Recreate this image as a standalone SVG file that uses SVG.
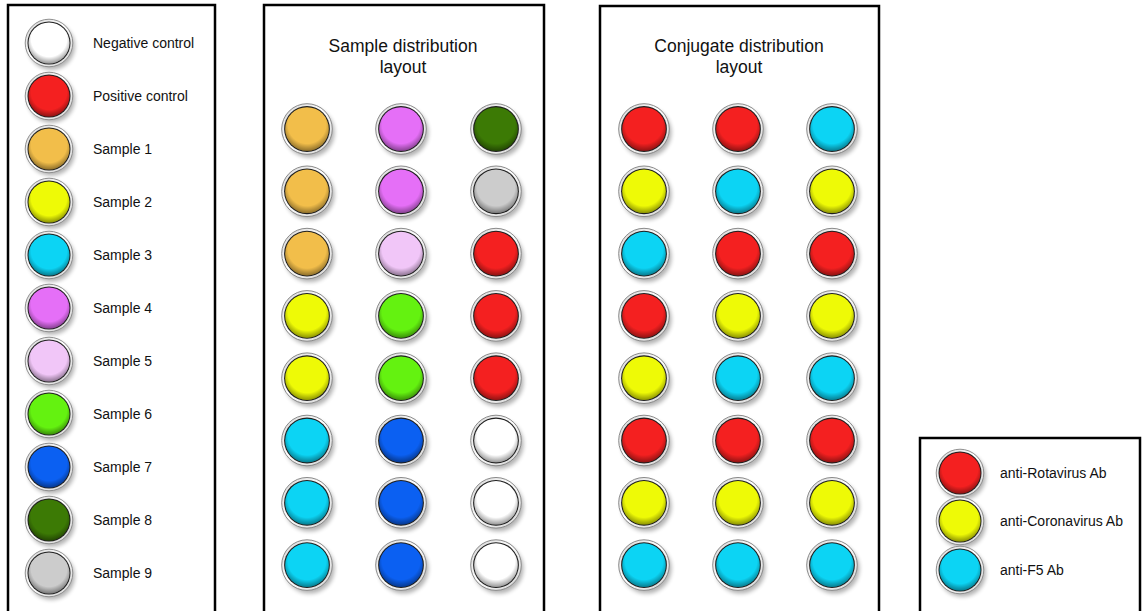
<svg xmlns="http://www.w3.org/2000/svg" xmlns:xlink="http://www.w3.org/1999/xlink" width="1142" height="611" viewBox="0 0 1142 611">
<style>
.panel{fill:#fff;stroke:#000;stroke-width:2.5}
.lbl{font-family:"Liberation Sans",Arial,sans-serif;font-size:14px;fill:#111}
.ttl{font-family:"Liberation Sans",Arial,sans-serif;font-size:17.5px;fill:#111;text-anchor:middle}
.w{fill:#ffffff}.r{fill:#f42020}.o{fill:#f2be4a}.y{fill:#eefa06}.c{fill:#0cd4f4}
.m{fill:#e56ff7}.p{fill:#f1c6f8}.g{fill:#64f210}.b{fill:#0b60f2}.d{fill:#3c7a05}.s{fill:#cccccc}
</style>
<defs>
<filter id="blur" x="-50%" y="-50%" width="200%" height="200%"><feGaussianBlur stdDeviation="2"/></filter>
<linearGradient id="ringGrad" x1="0" y1="0" x2="1" y2="1">
<stop offset="0" stop-color="#d0d0d0"/><stop offset="0.45" stop-color="#ffffff"/><stop offset="1" stop-color="#cfcfcf"/>
</linearGradient>
<radialGradient id="shadeGrad" cx="0.5" cy="0.4" r="0.62">
<stop offset="0.7" stop-color="#000" stop-opacity="0"/><stop offset="1" stop-color="#000" stop-opacity="0.45"/>
</radialGradient>
<g id="ring">
<circle cx="2.5" cy="3.5" r="25" fill="#000" opacity="0.3" filter="url(#blur)"/>
<circle r="25.3" fill="url(#ringGrad)" stroke="#8a8a8a" stroke-width="1"/>
<circle r="22.9" fill="#1e1e1e"/>
</g>
<circle id="shade" r="21.8" fill="url(#shadeGrad)"/>
</defs>
<rect width="1142" height="611" fill="#fff"/>
<g id="panels">
<rect class="panel" x="8" y="5" width="207" height="620"/>
<rect class="panel" x="264" y="5" width="280" height="620"/>
<rect class="panel" x="600" y="6" width="279" height="620"/>
<rect class="panel" x="920" y="438" width="220" height="190"/>
</g>
<g id="titles">
<text class="ttl" x="403" y="52">Sample distribution</text>
<text class="ttl" x="403" y="73">layout</text>
<text class="ttl" x="739" y="52">Conjugate distribution</text>
<text class="ttl" x="739" y="73">layout</text>
</g>
<g id="legend">
<g id="leg-neg"><g transform="translate(49,43) scale(0.94)"><use href="#ring"/><circle r="21.8" class="w"/><use href="#shade"/></g><text class="lbl" x="93" y="48">Negative control</text></g>
<g id="leg-pos"><g transform="translate(49,96) scale(0.94)"><use href="#ring"/><circle r="21.8" class="r"/><use href="#shade"/></g><text class="lbl" x="93" y="101">Positive control</text></g>
<g id="leg-s1"><g transform="translate(49,149) scale(0.94)"><use href="#ring"/><circle r="21.8" class="o"/><use href="#shade"/></g><text class="lbl" x="93" y="154">Sample 1</text></g>
<g id="leg-s2"><g transform="translate(49,202) scale(0.94)"><use href="#ring"/><circle r="21.8" class="y"/><use href="#shade"/></g><text class="lbl" x="93" y="207">Sample 2</text></g>
<g id="leg-s3"><g transform="translate(49,255) scale(0.94)"><use href="#ring"/><circle r="21.8" class="c"/><use href="#shade"/></g><text class="lbl" x="93" y="260">Sample 3</text></g>
<g id="leg-s4"><g transform="translate(49,308) scale(0.94)"><use href="#ring"/><circle r="21.8" class="m"/><use href="#shade"/></g><text class="lbl" x="93" y="313">Sample 4</text></g>
<g id="leg-s5"><g transform="translate(49,361) scale(0.94)"><use href="#ring"/><circle r="21.8" class="p"/><use href="#shade"/></g><text class="lbl" x="93" y="366">Sample 5</text></g>
<g id="leg-s6"><g transform="translate(49,414) scale(0.94)"><use href="#ring"/><circle r="21.8" class="g"/><use href="#shade"/></g><text class="lbl" x="93" y="419">Sample 6</text></g>
<g id="leg-s7"><g transform="translate(49,467) scale(0.94)"><use href="#ring"/><circle r="21.8" class="b"/><use href="#shade"/></g><text class="lbl" x="93" y="472">Sample 7</text></g>
<g id="leg-s8"><g transform="translate(49,520) scale(0.94)"><use href="#ring"/><circle r="21.8" class="d"/><use href="#shade"/></g><text class="lbl" x="93" y="525">Sample 8</text></g>
<g id="leg-s9"><g transform="translate(49,573) scale(0.94)"><use href="#ring"/><circle r="21.8" class="s"/><use href="#shade"/></g><text class="lbl" x="93" y="578">Sample 9</text></g>
</g>
<g id="sample-layout">
<g id="s-r1c1" transform="translate(307,129)"><use href="#ring"/><circle r="21.8" class="o"/><use href="#shade"/></g>
<g id="s-r1c2" transform="translate(401,129)"><use href="#ring"/><circle r="21.8" class="m"/><use href="#shade"/></g>
<g id="s-r1c3" transform="translate(496,129)"><use href="#ring"/><circle r="21.8" class="d"/><use href="#shade"/></g>
<g id="s-r2c1" transform="translate(307,191.3)"><use href="#ring"/><circle r="21.8" class="o"/><use href="#shade"/></g>
<g id="s-r2c2" transform="translate(401,191.3)"><use href="#ring"/><circle r="21.8" class="m"/><use href="#shade"/></g>
<g id="s-r2c3" transform="translate(496,191.3)"><use href="#ring"/><circle r="21.8" class="s"/><use href="#shade"/></g>
<g id="s-r3c1" transform="translate(307,253.6)"><use href="#ring"/><circle r="21.8" class="o"/><use href="#shade"/></g>
<g id="s-r3c2" transform="translate(401,253.6)"><use href="#ring"/><circle r="21.8" class="p"/><use href="#shade"/></g>
<g id="s-r3c3" transform="translate(496,253.6)"><use href="#ring"/><circle r="21.8" class="r"/><use href="#shade"/></g>
<g id="s-r4c1" transform="translate(307,315.9)"><use href="#ring"/><circle r="21.8" class="y"/><use href="#shade"/></g>
<g id="s-r4c2" transform="translate(401,315.9)"><use href="#ring"/><circle r="21.8" class="g"/><use href="#shade"/></g>
<g id="s-r4c3" transform="translate(496,315.9)"><use href="#ring"/><circle r="21.8" class="r"/><use href="#shade"/></g>
<g id="s-r5c1" transform="translate(307,378.2)"><use href="#ring"/><circle r="21.8" class="y"/><use href="#shade"/></g>
<g id="s-r5c2" transform="translate(401,378.2)"><use href="#ring"/><circle r="21.8" class="g"/><use href="#shade"/></g>
<g id="s-r5c3" transform="translate(496,378.2)"><use href="#ring"/><circle r="21.8" class="r"/><use href="#shade"/></g>
<g id="s-r6c1" transform="translate(307,440.5)"><use href="#ring"/><circle r="21.8" class="c"/><use href="#shade"/></g>
<g id="s-r6c2" transform="translate(401,440.5)"><use href="#ring"/><circle r="21.8" class="b"/><use href="#shade"/></g>
<g id="s-r6c3" transform="translate(496,440.5)"><use href="#ring"/><circle r="21.8" class="w"/><use href="#shade"/></g>
<g id="s-r7c1" transform="translate(307,502.8)"><use href="#ring"/><circle r="21.8" class="c"/><use href="#shade"/></g>
<g id="s-r7c2" transform="translate(401,502.8)"><use href="#ring"/><circle r="21.8" class="b"/><use href="#shade"/></g>
<g id="s-r7c3" transform="translate(496,502.8)"><use href="#ring"/><circle r="21.8" class="w"/><use href="#shade"/></g>
<g id="s-r8c1" transform="translate(307,565.1)"><use href="#ring"/><circle r="21.8" class="c"/><use href="#shade"/></g>
<g id="s-r8c2" transform="translate(401,565.1)"><use href="#ring"/><circle r="21.8" class="b"/><use href="#shade"/></g>
<g id="s-r8c3" transform="translate(496,565.1)"><use href="#ring"/><circle r="21.8" class="w"/><use href="#shade"/></g>
</g>
<g id="conjugate-layout">
<g id="c-r1c1" transform="translate(644,129)"><use href="#ring"/><circle r="21.8" class="r"/><use href="#shade"/></g>
<g id="c-r1c2" transform="translate(738,129)"><use href="#ring"/><circle r="21.8" class="r"/><use href="#shade"/></g>
<g id="c-r1c3" transform="translate(832,129)"><use href="#ring"/><circle r="21.8" class="c"/><use href="#shade"/></g>
<g id="c-r2c1" transform="translate(644,191.3)"><use href="#ring"/><circle r="21.8" class="y"/><use href="#shade"/></g>
<g id="c-r2c2" transform="translate(738,191.3)"><use href="#ring"/><circle r="21.8" class="c"/><use href="#shade"/></g>
<g id="c-r2c3" transform="translate(832,191.3)"><use href="#ring"/><circle r="21.8" class="y"/><use href="#shade"/></g>
<g id="c-r3c1" transform="translate(644,253.6)"><use href="#ring"/><circle r="21.8" class="c"/><use href="#shade"/></g>
<g id="c-r3c2" transform="translate(738,253.6)"><use href="#ring"/><circle r="21.8" class="r"/><use href="#shade"/></g>
<g id="c-r3c3" transform="translate(832,253.6)"><use href="#ring"/><circle r="21.8" class="r"/><use href="#shade"/></g>
<g id="c-r4c1" transform="translate(644,315.9)"><use href="#ring"/><circle r="21.8" class="r"/><use href="#shade"/></g>
<g id="c-r4c2" transform="translate(738,315.9)"><use href="#ring"/><circle r="21.8" class="y"/><use href="#shade"/></g>
<g id="c-r4c3" transform="translate(832,315.9)"><use href="#ring"/><circle r="21.8" class="y"/><use href="#shade"/></g>
<g id="c-r5c1" transform="translate(644,378.2)"><use href="#ring"/><circle r="21.8" class="y"/><use href="#shade"/></g>
<g id="c-r5c2" transform="translate(738,378.2)"><use href="#ring"/><circle r="21.8" class="c"/><use href="#shade"/></g>
<g id="c-r5c3" transform="translate(832,378.2)"><use href="#ring"/><circle r="21.8" class="c"/><use href="#shade"/></g>
<g id="c-r6c1" transform="translate(644,440.5)"><use href="#ring"/><circle r="21.8" class="r"/><use href="#shade"/></g>
<g id="c-r6c2" transform="translate(738,440.5)"><use href="#ring"/><circle r="21.8" class="r"/><use href="#shade"/></g>
<g id="c-r6c3" transform="translate(832,440.5)"><use href="#ring"/><circle r="21.8" class="r"/><use href="#shade"/></g>
<g id="c-r7c1" transform="translate(644,502.8)"><use href="#ring"/><circle r="21.8" class="y"/><use href="#shade"/></g>
<g id="c-r7c2" transform="translate(738,502.8)"><use href="#ring"/><circle r="21.8" class="y"/><use href="#shade"/></g>
<g id="c-r7c3" transform="translate(832,502.8)"><use href="#ring"/><circle r="21.8" class="y"/><use href="#shade"/></g>
<g id="c-r8c1" transform="translate(644,565.1)"><use href="#ring"/><circle r="21.8" class="c"/><use href="#shade"/></g>
<g id="c-r8c2" transform="translate(738,565.1)"><use href="#ring"/><circle r="21.8" class="c"/><use href="#shade"/></g>
<g id="c-r8c3" transform="translate(832,565.1)"><use href="#ring"/><circle r="21.8" class="c"/><use href="#shade"/></g>
</g>
<g id="antibody-legend">
<g id="ab-rota"><g transform="translate(960,473) scale(0.94)"><use href="#ring"/><circle r="21.8" class="r"/><use href="#shade"/></g><text class="lbl" x="1000" y="478">anti-Rotavirus Ab</text></g>
<g id="ab-corona"><g transform="translate(960,521) scale(0.94)"><use href="#ring"/><circle r="21.8" class="y"/><use href="#shade"/></g><text class="lbl" x="1000" y="526">anti-Coronavirus Ab</text></g>
<g id="ab-f5"><g transform="translate(960,570) scale(0.94)"><use href="#ring"/><circle r="21.8" class="c"/><use href="#shade"/></g><text class="lbl" x="1000" y="575">anti-F5 Ab</text></g>
</g>
</svg>
